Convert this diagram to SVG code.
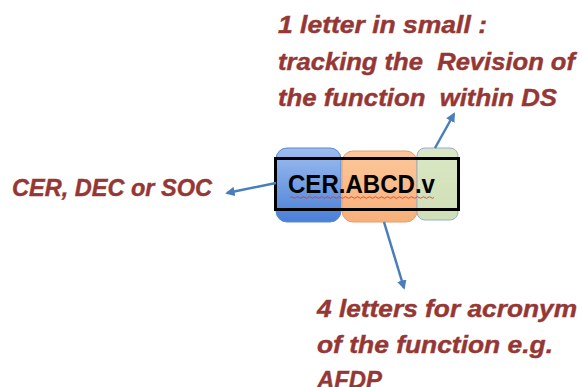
<svg xmlns="http://www.w3.org/2000/svg" width="582" height="387" viewBox="0 0 582 387">
<style>
.lbl{font-family:"Liberation Sans",Arial,sans-serif;font-weight:bold;font-style:italic;font-size:24px;fill:#953735;stroke:#953735;stroke-width:0.4}
.arr{stroke:#4a7ebb;stroke-width:2.5;fill:none;marker-end:url(#ah)}
</style>
<defs>
<marker id="ah" viewBox="0 0 10 10" refX="8" refY="5" markerWidth="3.8" markerHeight="3.8" orient="auto" markerUnits="strokeWidth">
<path d="M0,0 L10,5 L0,10 z" fill="#4a7ebb"/>
</marker>
<linearGradient id="gb" x1="0" y1="0" x2="0" y2="1"><stop offset="0" stop-color="#9dbdef"/><stop offset="1" stop-color="#4a7fd8"/></linearGradient>
<linearGradient id="go" x1="0" y1="0" x2="0" y2="1"><stop offset="0" stop-color="#fcc79a"/><stop offset="1" stop-color="#f8b07a"/></linearGradient>
<linearGradient id="gg" x1="0" y1="0" x2="0" y2="1"><stop offset="0" stop-color="#dae7c4"/><stop offset="1" stop-color="#d0dfb6"/></linearGradient>
</defs>
<rect width="582" height="387" fill="#ffffff"/>
<g id="node-code">
<rect x="276" y="148" width="65" height="74" rx="11" fill="url(#gb)" stroke="#5a8ad0" stroke-width="1"/>
<rect x="342" y="151" width="75" height="71" rx="11" fill="url(#go)" stroke="#e0a070" stroke-width="1"/>
<rect x="417" y="148" width="41" height="72" rx="8" fill="url(#gg)" stroke="#8fb0d8" stroke-width="1"/>
<rect x="275.5" y="158.5" width="183" height="51" fill="none" stroke="#000000" stroke-width="3"/>
<text x="288" y="193" font-family="'Liberation Sans',Arial,sans-serif" font-weight="bold" font-size="25" fill="#000000" textLength="147" lengthAdjust="spacingAndGlyphs">CER.ABCD.v</text>
<path d="M290,197.5 q1.5,-1.5 3,0 t3,0 t3,0 t3,0 t3,0 t3,0 t3,0 t3,0 t3,0 t3,0 t3,0 t3,0 t3,0 t3,0 t3,0 t3,0 t3,0 t3,0 t3,0 t3,0 t3,0 t3,0 t3,0 t3,0 t3,0 t3,0 t3,0 t3,0 t3,0 t3,0 t3,0 t3,0 t3,0 t3,0 t3,0 t3,0 t3,0 t3,0 t3,0 t3,0 t3,0 t3,0 t3,0 t3,0 t3,0 t3,0 t3,0 t3,0" fill="none" stroke="#e03030" stroke-width="0.8"/>
</g>
<g id="node-type">
<text class="lbl" x="12" y="196" textLength="200" lengthAdjust="spacingAndGlyphs">CER, DEC or SOC</text>
</g>
<g id="node-revision">
<text class="lbl" x="278" y="33" textLength="209" lengthAdjust="spacingAndGlyphs">1 letter in small :</text>
<text class="lbl" x="278" y="70" xml:space="preserve" textLength="297" lengthAdjust="spacingAndGlyphs">tracking the  Revision of</text>
<text class="lbl" x="278" y="106" xml:space="preserve" textLength="279" lengthAdjust="spacingAndGlyphs">the function  within DS</text>
</g>
<g id="node-acronym">
<text class="lbl" x="317" y="317" textLength="260" lengthAdjust="spacingAndGlyphs">4 letters for acronym</text>
<text class="lbl" x="317" y="353" textLength="236" lengthAdjust="spacingAndGlyphs">of the function e.g.</text>
<text class="lbl" x="317" y="388" textLength="65" lengthAdjust="spacingAndGlyphs">AFDP</text>
</g>
<g id="connectors">
<line class="arr" x1="276" y1="183" x2="227" y2="193"/>
<line class="arr" x1="435" y1="148" x2="454" y2="114"/>
<line class="arr" x1="384" y1="222" x2="404" y2="288"/>
</g>
</svg>
